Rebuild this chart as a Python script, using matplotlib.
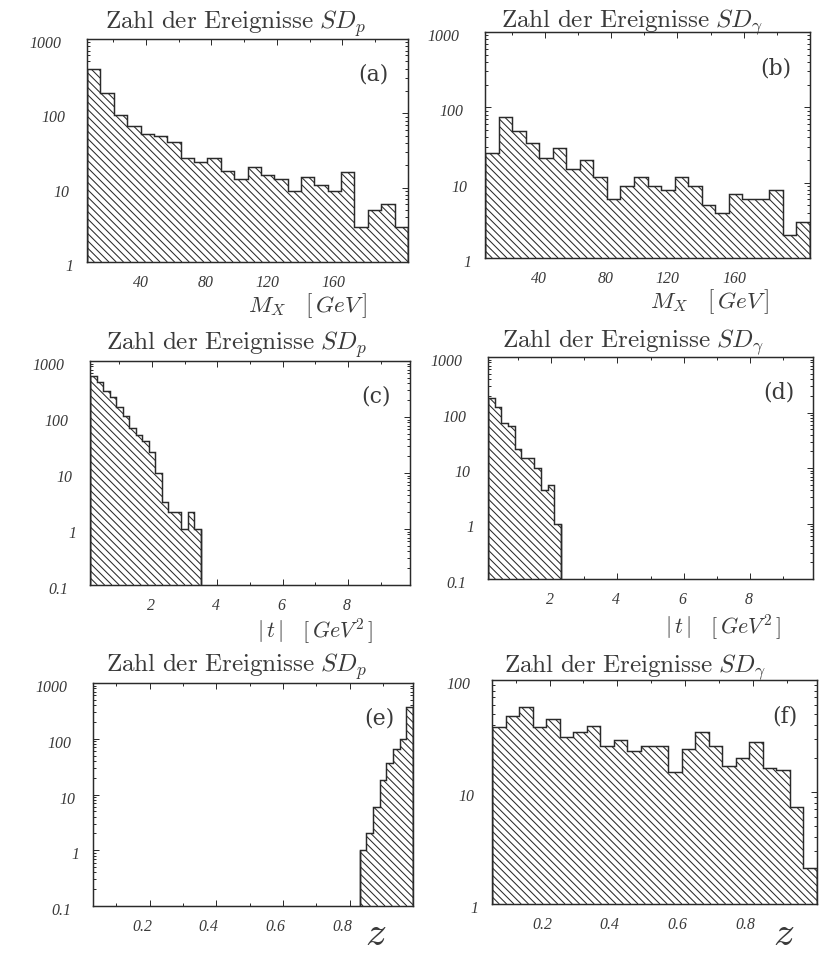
import numpy as np
import matplotlib
matplotlib.use("Agg")
import matplotlib.pyplot as plt
from matplotlib.collections import LineCollection
from matplotlib.transforms import ScaledTranslation, blended_transform_factory
from matplotlib.ticker import LogLocator, MultipleLocator, NullFormatter, FixedLocator

plt.rcParams["mathtext.fontset"] = "cm"

DPI = 88
W, H = 836, 953
INK = "#2a2a2a"
TXT = "#3a3a3a"

# ---- M_X distributions [GeV], 24 bins ----
mx_edges = np.linspace(4, 200, 25)
mx_sdp = [400, 185, 95, 67, 53, 49, 41, 25, 22, 25, 17, 13,
          19, 15, 13, 9, 14, 11, 9, 16, 3, 5, 6, 3]
mx_sdg = [25, 75, 49, 34, 21, 29, 15, 20, 12, 6, 9, 12,
          9, 8, 12, 9, 5, 4, 7, 6, 6, 8, 2, 3]

# ---- |t| distributions [GeV^2], bins of 0.2 ----
t_sdp_edges = np.round(0.1 + 0.2 * np.arange(18), 2)
t_sdp = [540, 430, 290, 224, 153, 104, 63, 48, 38, 24, 10, 3, 2, 2, 1, 2, 1]
t_sdg_edges = np.round(0.1 + 0.2 * np.arange(12), 2)
t_sdg = [186, 126, 65, 58, 22, 15, 15, 10, 4, 5, 1]

# ---- z distributions ----
z_sdp_edges = np.round(0.83 + 0.02 * np.arange(9), 2)
z_sdp = [1, 2, 6, 18, 36, 66, 100, 370]
z_sdg_edges = np.round(0.03 + 0.04 * np.arange(25), 2)
z_sdg = [38, 48, 57, 38, 45, 31, 34, 39, 26, 29, 23, 26,
         26, 15, 24, 34, 26, 17, 20, 28, 16.5, 15.6, 7.3, 2.1]

title_p = r"$\mathrm{Zahl\ der\ Ereignisse}\ SD_p$"
title_g = r"$\mathrm{Zahl\ der\ Ereignisse}\ SD_\gamma$"
lab_mx = r"$M_X\ \ \ [\,GeV\,]$"
lab_t = r"$|\,t\,|\ \ \ [\,GeV^2\,]$"
lab_z = r"$z$"

mx_ticks = [40, 80, 120, 160]
t_ticks = [2, 4, 6, 8]
z_ticks = [0.2, 0.4, 0.6, 0.8]

fig = plt.figure(figsize=(W / DPI, H / DPI), dpi=DPI, facecolor="white")


def px_axes(l, t, r, b):
    return fig.add_axes([l / W, 1 - b / H, (r - l) / W, (b - t) / H])


def off(dx, dy):
    return ScaledTranslation(dx / DPI, -dy / DPI, fig.dpi_scale_trans)


def hatch_lines(ax, patch, box, spacing=7.3):
    """Diagonal (upper-left to lower-right) hatching clipped to a histogram."""
    l, t, r, b = box
    x0, x1 = l / DPI, r / DPI
    y0, y1 = (H - b) / DPI, (H - t) / DPI
    s = spacing / DPI
    segs = [[(c - y1, y1), (c - y0, y0)]
            for c in np.arange(x0 + y0, x1 + y1 + s, s)]
    lc = LineCollection(segs, colors=INK, linewidths=0.85,
                        transform=fig.dpi_scale_trans, zorder=2.5)
    lc.set_clip_path(patch)
    ax.add_collection(lc, autolim=False)


panels = [
    dict(box=(87, 39, 408, 262), edges=mx_edges, vals=mx_sdp, xlim=(4, 200),
         ylim=(1, 1000), xt=mx_ticks, xminor=20, title=title_p, tpos=(236, 29),
         letter="(a)", xlab=lab_mx, lpos=(248, 312)),
    dict(box=(485, 32, 810, 258), edges=mx_edges, vals=mx_sdg, xlim=(4, 200),
         ylim=(1, 1000), xt=mx_ticks, xminor=20, title=title_g, tpos=(632, 27),
         letter="(b)", xlab=lab_mx, lpos=(650, 308)),
    dict(box=(90, 361, 410, 585), edges=t_sdp_edges, vals=t_sdp, xlim=(0.1, 9.9),
         ylim=(0.1, 1000), xt=t_ticks, xminor=1, title=title_p, tpos=(237, 350),
         letter="(c)", xlab=lab_t, lpos=(257, 638)),
    dict(box=(488, 357, 813, 579), edges=t_sdg_edges, vals=t_sdg, xlim=(0.1, 9.9),
         ylim=(0.1, 1000), xt=t_ticks, xminor=1, title=title_g, tpos=(633, 347),
         letter="(d)", xlab=lab_t, lpos=(665, 634)),
    dict(box=(93, 683, 413, 906), edges=z_sdp_edges, vals=z_sdp, xlim=(0.03, 0.99),
         ylim=(0.1, 1000), xt=z_ticks, xminor=0.1, title=title_p, tpos=(237, 672),
         letter="(e)", xlab=lab_z, lpos=(365, 945)),
    dict(box=(492, 680, 817, 904), edges=z_sdg_edges, vals=z_sdg, xlim=(0.03, 0.99),
         ylim=(1, 100), xt=z_ticks, xminor=0.1, title=title_g, tpos=(635, 672),
         letter="(f)", xlab=lab_z, lpos=(773, 945)),
]


def fmt(v):
    return "0.1" if v < 1 else str(int(v))


for p in panels:
    ax = px_axes(*p["box"])
    ax.set_yscale("log")
    ax.set_xlim(*p["xlim"])
    ax.set_ylim(*p["ylim"])
    patch = ax.stairs(p["vals"], p["edges"], baseline=p["ylim"][0], fill=True,
                      facecolor="white", edgecolor="none", zorder=2)
    ax.stairs(p["vals"], p["edges"], baseline=p["ylim"][0], fill=False,
              color=INK, linewidth=1.2, zorder=3)
    # closing vertical edges of the histogram
    ax.vlines([p["edges"][0], p["edges"][-1]], p["ylim"][0],
              [p["vals"][0], p["vals"][-1]], color=INK, linewidth=1.2, zorder=3)
    hatch_lines(ax, patch, p["box"])

    for s in ax.spines.values():
        s.set_linewidth(1.2)
        s.set_color(INK)
        s.set_zorder(4)

    ax.xaxis.set_major_locator(FixedLocator(p["xt"]))
    ax.xaxis.set_minor_locator(MultipleLocator(p["xminor"]))
    ax.yaxis.set_major_locator(LogLocator(base=10, numticks=10))
    ax.yaxis.set_minor_locator(LogLocator(base=10, subs=np.arange(2, 10), numticks=20))
    ax.yaxis.set_minor_formatter(NullFormatter())
    ax.tick_params(which="both", direction="in", top=True, right=True,
                   labelleft=False, labelbottom=False, color=INK, width=0.8)
    ax.tick_params(which="major", length=5)
    ax.tick_params(which="minor", length=2.5)

    # y tick labels
    ty = blended_transform_factory(ax.transAxes, ax.transData)
    lo, hi = p["ylim"]
    decade = lo
    while decade <= hi * 1.001:
        s = fmt(decade)
        gap = 10 + 4 * len(s)
        ax.text(0, decade, s, transform=ty + off(-gap, 5), ha="right", va="center",
                fontsize=13, family="Liberation Serif", style="italic", color=TXT)
        decade *= 10

    # x tick labels
    tx = blended_transform_factory(ax.transData, ax.transAxes)
    for v in p["xt"]:
        s = ("%g" % v)
        ax.text(v, 0, s, transform=tx + off(2.5, 21), ha="right", va="center",
                fontsize=13, family="Liberation Serif", style="italic", color=TXT)

    # panel letter
    ax.text(1, 1, p["letter"], transform=ax.transAxes + off(-19, 36),
            ha="right", va="center", fontsize=18, family="DejaVu Serif", color=TXT)

    # title and axis label
    fig.text(p["tpos"][0] / W, 1 - p["tpos"][1] / H, p["title"], ha="center",
             va="baseline", fontsize=20.5, color=TXT)
    if p["xlab"] == lab_z:
        lsize = 34
    elif p["xlab"] == lab_mx:
        lsize = 19
    else:
        lsize = 18
    fig.text(p["lpos"][0] / W, 1 - p["lpos"][1] / H, p["xlab"], ha="left",
             va="baseline", fontsize=lsize, color=TXT)

fig.savefig("out.png", dpi=DPI, facecolor="white")
